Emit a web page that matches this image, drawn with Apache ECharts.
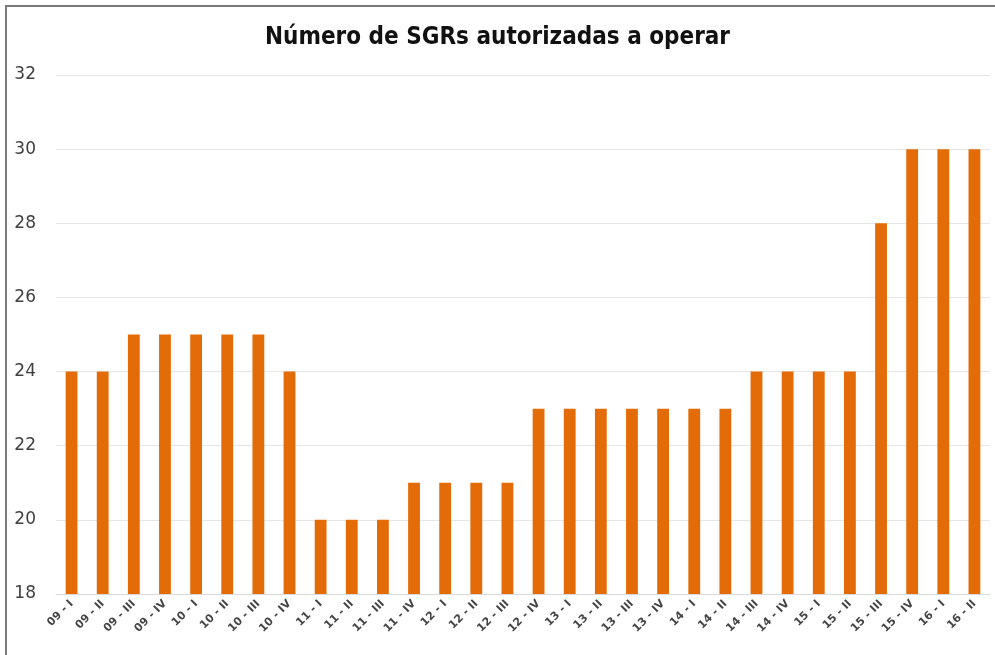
<!DOCTYPE html>
<html>
<head>
<meta charset="utf-8">
<script src="https://cdn.jsdelivr.net/npm/echarts@6/dist/echarts.min.js"></script>
<style>
html,body{margin:0;padding:0;background:#fff;}
#frame{position:absolute;left:5px;top:5px;width:990px;height:650px;border-top:2px solid #7a7a7a;border-left:2px solid #7a7a7a;box-sizing:border-box;}
#chart{position:absolute;left:0;top:0;width:995px;height:655px;}
</style>
</head>
<body>
<div id="frame"></div>
<div id="chart"></div>
<script>
const categories = ["09 - I","09 - II","09 - III","09 - IV","10 - I","10 - II","10 - III","10 - IV","11 - I","11 - II","11 - III","11 - IV","12 - I","12 - II","12 - III","12 - IV","13 - I","13 - II","13 - III","13 - IV","14 - I","14 - II","14 - III","14 - IV","15 - I","15 - II","15 - III","15 - IV","16 - I","16 - II"];
const values = [24,24,25,25,25,25,25,24,20,20,20,21,21,21,21,23,23,23,23,23,23,23,24,24,24,24,28,30,30,30];
const titleText = "Número de SGRs autorizadas a operar";

const chart = echarts.init(document.getElementById('chart'), null, {renderer:'canvas'});
chart.setOption({
  backgroundColor: 'transparent',
  animation: false,
  title: {
    text: titleText,
    left: 'center',
    top: 21,
    textStyle: {fontFamily: 'DejaVu Sans Condensed', fontWeight: 'bold', fontSize: 24, color: '#111'}
  },
  grid: {left: 56, right: 5, top: 75, bottom: 61},
  xAxis: {
    type: 'category',
    data: categories,
    axisLine: {show: true, lineStyle: {color: '#d9d9d9', width: 1}},
    axisTick: {show: false},
    axisLabel: {rotate: 45, interval: 0, fontSize: 11, fontWeight: 'bold', color: '#444', fontFamily: 'DejaVu Sans', margin: 8}
  },
  yAxis: {
    type: 'value',
    min: 18, max: 32, interval: 2,
    axisLine: {show: false},
    axisTick: {show: false},
    splitLine: {lineStyle: {color: '#e6e6e6', width: 1}},
    axisLabel: {fontSize: 17, color: '#404040', fontFamily: 'DejaVu Sans', margin: 20}
  },
  series: [{
    type: 'bar',
    data: values,
    barWidth: '38%',
    itemStyle: {color: '#E36C09'}
  }]
});
</script>
</body>
</html>
